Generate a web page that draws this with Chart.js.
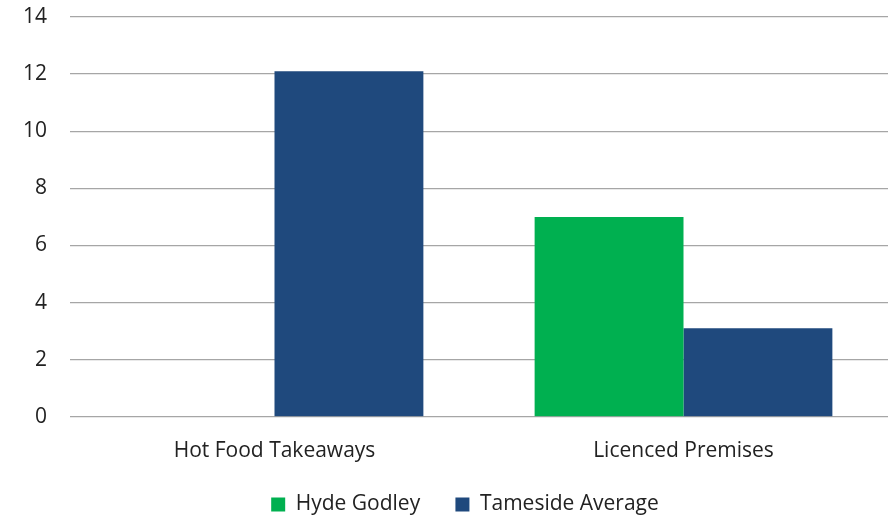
<!DOCTYPE html>
<html>
<head>
<meta charset="utf-8">
<script src="https://cdn.jsdelivr.net/npm/chart.js@4"></script>
<style>
  html, body { margin: 0; padding: 0; background: #fff; }
  #wrap { width: 888px; height: 517px; position: relative; }
</style>
</head>
<body>
<div id="wrap"><canvas id="chart"></canvas></div>
<script>
const categories = ["Hot Food Takeaways", "Licenced Premises"];
const hydeGodley = [null, 7.0];
const tamesideAverage = [12.1, 3.1];
const yTicks = [0, 2, 4, 6, 8, 10, 12, 14];

const FONT = "'Open Sans', sans-serif";

// legend in the reference sits a bit right of the page centre
const legendShift = {
    id: 'legendShift',
    afterLayout(chart) { if (chart.legend) chart.legend.left += 42; }
};

new Chart(document.getElementById('chart'), {
    type: 'bar',
    data: {
        labels: categories,
        datasets: [
            { label: 'Hyde Godley', data: hydeGodley, backgroundColor: '#00b050' },
            { label: 'Tameside Average', data: tamesideAverage, backgroundColor: '#1f497d' }
        ]
    },
    options: {
        responsive: true,
        maintainAspectRatio: false,
        animation: false,
        layout: { padding: { top: 17, right: 0, left: 0, bottom: -8 } },
        datasets: { bar: { categoryPercentage: 0.728, barPercentage: 1.0 } },
        scales: {
            x: {
                grid: { display: false, drawTicks: false },
                border: { display: false },
                ticks: { color: '#222', font: { family: FONT, size: 21 }, padding: 22 }
            },
            y: {
                min: 0, max: 14,
                afterBuildTicks: (axis) => { axis.ticks = yTicks.map(v => ({ value: v })); },
                afterFit: (axis) => {
                    axis.width = 70;
                    axis.paddingTop = 0;
                    axis.paddingBottom = 0;
                },
                grid: { color: '#a6a6a6', lineWidth: 1.3, drawTicks: false },
                border: { display: false },
                ticks: { color: '#222', font: { family: FONT, size: 21 }, padding: 23 }
            }
        },
        plugins: {
            legend: {
                position: 'bottom',
                labels: {
                    color: '#222',
                    font: { family: FONT, size: 21 },
                    boxWidth: 14, boxHeight: 14, padding: 8,
                    generateLabels: (chart) => {
                        const items = Chart.defaults.plugins.legend.labels.generateLabels(chart);
                        // wider gap between the two legend entries
                        items.forEach((it, i) => { if (i < items.length - 1) it.text += '     '; });
                        return items;
                    }
                }
            },
            tooltip: { enabled: false }
        }
    },
    plugins: [legendShift]
});
</script>
</body>
</html>
